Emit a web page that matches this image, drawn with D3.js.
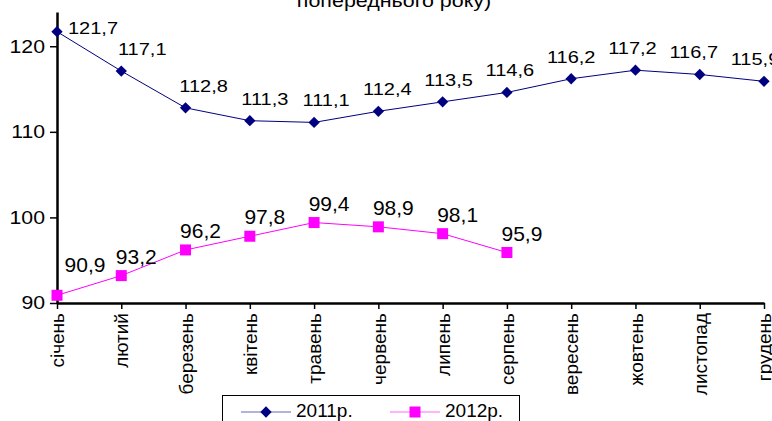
<!DOCTYPE html>
<html>
<head>
<meta charset="utf-8">
<script src="https://cdn.jsdelivr.net/npm/d3@7"></script>
<style>
  body { margin: 0; background: #fff; }
  svg { display: block; font-family: Arial, "Liberation Sans", sans-serif; }
</style>
</head>
<body>
<div id="chart"></div>
<script>
const width = 772;
const height = 421;

// data
const months = ["січень", "лютий", "березень", "квітень", "травень", "червень",
  "липень", "серпень", "вересень", "жовтень", "листопад", "грудень"];
const values2011 = [121.7, 117.1, 112.8, 111.3, 111.1, 112.4, 113.5, 114.6, 116.2, 117.2, 116.7, 115.9];
const values2012 = [90.9, 93.2, 96.2, 97.8, 99.4, 98.9, 98.1, 95.9];
const yTicks = [90, 100, 110, 120];
const seriesNames = ["2011р.", "2012р."];
const titleText = "попереднього року)";

const plot = { left: 57, right: 764, top: 12, bottom: 303 };

const x = d3.scalePoint()
  .domain(months)
  .range([plot.left, plot.right]);

const y = d3.scaleLinear()
  .domain([90, 124])
  .range([plot.bottom, plot.top]);

const svg = d3.select("#chart")
  .append("svg")
  .attr("width", width)
  .attr("height", height);

// the source picture is a bit wider than tall, so stretch the text sideways
function stretch(sel, k) {
  sel.each(function () {
    const w = this.getComputedTextLength();
    d3.select(this)
      .attr("textLength", w * k)
      .attr("lengthAdjust", "spacingAndGlyphs");
  });
}

const fmt = d => String(d).replace(".", ",");

// title (upper lines fall outside the picture)
svg.append("text")
  .attr("x", 394)
  .attr("y", 7)
  .attr("text-anchor", "middle")
  .attr("font-size", 18)
  .text(titleText)
  .call(stretch, 1.19);

// axes
const yAxis = g => g
  .attr("transform", `translate(${plot.left},0)`)
  .call(d3.axisLeft(y).tickValues(yTicks).tickSize(7).tickSizeOuter(0).tickPadding(5))
  .call(g => g.select(".domain").attr("stroke", "#000").attr("stroke-width", 2.5))
  .call(g => g.selectAll(".tick line").attr("stroke-width", 1.5))
  .call(g => g.selectAll(".tick text").attr("font-size", 18).attr("fill", "#000").call(stretch, 1.18));

const xAxis = g => g
  .attr("transform", `translate(0,${plot.bottom})`)
  .call(d3.axisBottom(x).tickSize(6).tickSizeOuter(0))
  .call(g => g.select(".domain").attr("stroke", "#000").attr("stroke-width", 2.5))
  .call(g => g.selectAll(".tick line").attr("stroke-width", 1.5))
  .call(g => g.selectAll(".tick text")
    .attr("font-size", 19)
    .attr("fill", "#000")
    .attr("text-anchor", "end")
    .attr("transform", "rotate(-90)")
    .attr("x", -10)
    .attr("y", 0)
    .attr("dy", "0.35em"));

svg.append("g").call(yAxis);
svg.append("g").call(xAxis);

const line = d3.line()
  .x((d, i) => x(months[i]))
  .y(d => y(d));

const diamond = d3.symbol().type(d3.symbolSquare).size(64);
const square = d3.symbol().type(d3.symbolSquare).size(121);

// 2011
svg.append("path")
  .datum(values2011)
  .attr("fill", "none")
  .attr("stroke", "#000080")
  .attr("stroke-width", 1)
  .attr("d", line);

svg.append("g")
  .selectAll("path")
  .data(values2011)
  .join("path")
  .attr("d", diamond)
  .attr("fill", "#000080")
  .attr("transform", (d, i) => `translate(${x(months[i])},${y(d)}) rotate(45)`);

// labels drift a little leftwards along the year, as in the source
svg.append("g")
  .selectAll("text")
  .data(values2011)
  .join("text")
  .attr("font-size", 16)
  .attr("text-anchor", (d, i) => i === 0 ? "start" : "middle")
  .attr("x", (d, i) => x(months[i]) + (i === 0 ? 11 : 24 - 3 * i))
  .attr("y", (d, i) => y(d) + (i === 0 ? 2 : -16))
  .text(fmt)
  .call(stretch, 1.25);

// 2012
svg.append("path")
  .datum(values2012)
  .attr("fill", "none")
  .attr("stroke", "#FF00FF")
  .attr("stroke-width", 1)
  .attr("d", line);

svg.append("g")
  .selectAll("path")
  .data(values2012)
  .join("path")
  .attr("d", square)
  .attr("fill", "#FF00FF")
  .attr("transform", (d, i) => `translate(${x(months[i])},${y(d)})`);

svg.append("g")
  .selectAll("text")
  .data(values2012)
  .join("text")
  .attr("font-size", 21)
  .attr("text-anchor", "middle")
  .attr("x", (d, i) => x(months[i]) + (i === 0 ? 28 : 15))
  .attr("y", (d, i) => y(d) + (i === 0 ? -23 : -12))
  .text(fmt);

// legend
const legend = svg.append("g");
legend.append("rect")
  .attr("x", 222.5)
  .attr("y", 395.5)
  .attr("width", 297)
  .attr("height", 40)
  .attr("fill", "#fff")
  .attr("stroke", "#000")
  .attr("stroke-width", 1);

const legendItems = [
  { name: seriesNames[0], color: "#000080", sym: diamond, rot: 45, x0: 241 },
  { name: seriesNames[1], color: "#FF00FF", sym: square, rot: 0, x0: 390 }
];

legendItems.forEach(it => {
  const g = legend.append("g").attr("transform", `translate(${it.x0},412)`);
  g.append("line")
    .attr("x1", 0).attr("x2", 50)
    .attr("stroke", it.color)
    .attr("stroke-opacity", 0.6)
    .attr("stroke-width", 1);
  g.append("path")
    .attr("d", it.sym)
    .attr("fill", it.color)
    .attr("transform", `translate(25,0) rotate(${it.rot})`);
  g.append("text")
    .attr("x", 55)
    .attr("y", 5)
    .attr("font-size", 19)
    .text(it.name);
});
</script>
</body>
</html>
